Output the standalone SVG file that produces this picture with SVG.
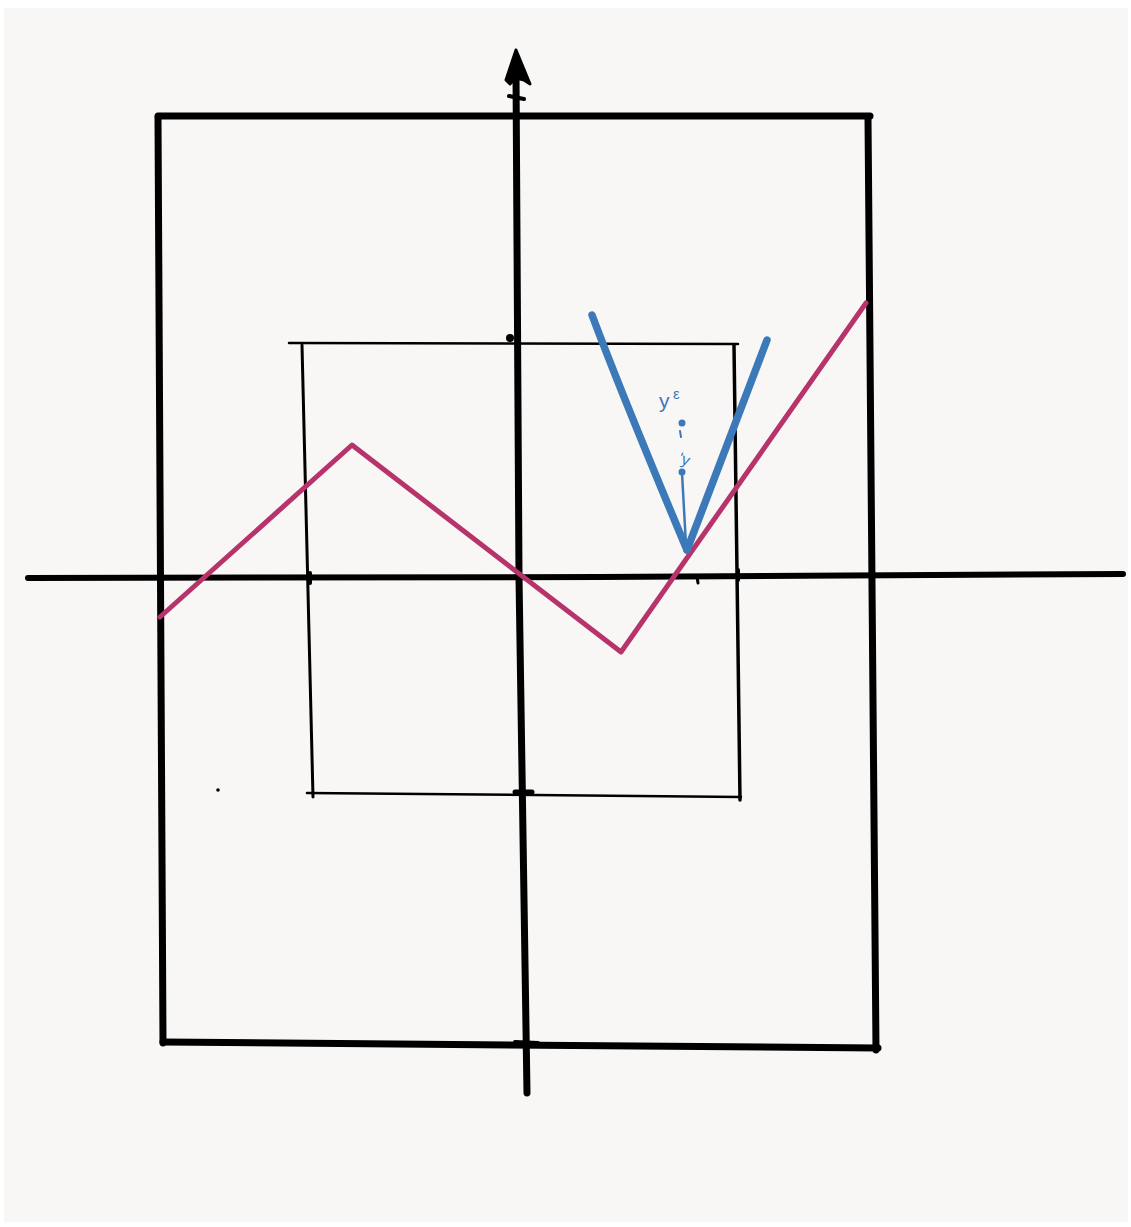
<svg xmlns="http://www.w3.org/2000/svg" width="1131" height="1227" viewBox="0 0 1131 1227">
<style>
.k{stroke:#000;fill:none;stroke-linecap:round;stroke-linejoin:round}
.thick{stroke-width:7}
.thin{stroke-width:2.5}
.pink{stroke:#b7336b;stroke-width:5;fill:none;stroke-linecap:round;stroke-linejoin:round}
.blue{stroke:#3b79b8;stroke-width:7.5;fill:none;stroke-linecap:round;stroke-linejoin:round}
.bt{fill:#3b79b8;font-family:'Liberation Sans',sans-serif}
</style>
<rect width="1131" height="1227" fill="#ffffff"/>
<rect x="4" y="8" width="1124" height="1214" fill="#f8f7f5"/>
<g id="outer-frame">
<path class="k thick" d="M158 116 L870 116"/>
<path class="k thick" d="M158 118 L163 1043"/>
<path class="k thick" d="M163 1042 L878 1048"/>
<path class="k thick" d="M868 118 L876 1050"/>
</g>
<g id="inner-frame">
<path class="k thin" d="M289 343 L738 344"/>
<path class="k" style="stroke-width:3" d="M302 345 L313 797"/>
<path class="k thin" d="M307 793 L741 797"/>
<path class="k" style="stroke-width:3.5" d="M734 345 L740 800"/>
</g>
<g id="axes">
<path class="k thick" d="M516 72 L519 577 L527 1093"/>
<path d="M516 50 L506 80 L510 84 L516 78 L524 80 L530 84 Z" fill="#000" stroke="#000" stroke-width="3" stroke-linejoin="round"/>
<path class="k" style="stroke-width:4" d="M509 96 L524 99"/>
<path class="k" style="stroke-width:6" d="M28 578 L600 577 L1123 574"/>
<path class="k" style="stroke-width:4" d="M28 578 L50 577"/>
</g>
<g id="ticks">
<path class="k" style="stroke-width:4" d="M310 573 L310 583"/>
<path class="k" style="stroke-width:4" d="M738 570 L738 580"/>
<circle cx="510" cy="338" r="4" fill="#000"/>
<path class="k" style="stroke-width:5" d="M515 792 L532 792"/>
<path class="k" style="stroke-width:4" d="M515 1042 L538 1043"/>
<path class="k" style="stroke-width:3" d="M697 577 L698 583"/>
<circle cx="218" cy="790" r="1.8" fill="#000"/>
</g>
<g id="pink-curve">
<path class="pink" d="M160 617 L352 445 L621 652 L866 303"/>
</g>
<g id="blue-cone">
<path class="blue" d="M592 315 Q622 395 687 550"/>
<path class="blue" d="M767 340 Q735 425 687 550"/>
<path d="M682 473 L686 545" stroke="#3b79b8" stroke-width="2.5" fill="none" stroke-linecap="round"/>
<circle cx="682" cy="423" r="3.5" fill="#3b79b8"/>
<circle cx="682" cy="472" r="3.5" fill="#3b79b8"/>
<path d="M680 431 L681 437" stroke="#3b79b8" stroke-width="2" stroke-linecap="round"/>
<text class="bt" x="659" y="408" font-size="21">y</text>
<text class="bt" x="673" y="399" font-size="15">ε</text>
<text class="bt" x="679" y="466" font-size="16" transform="rotate(20 688 460)">'y</text>
</g>
</svg>
